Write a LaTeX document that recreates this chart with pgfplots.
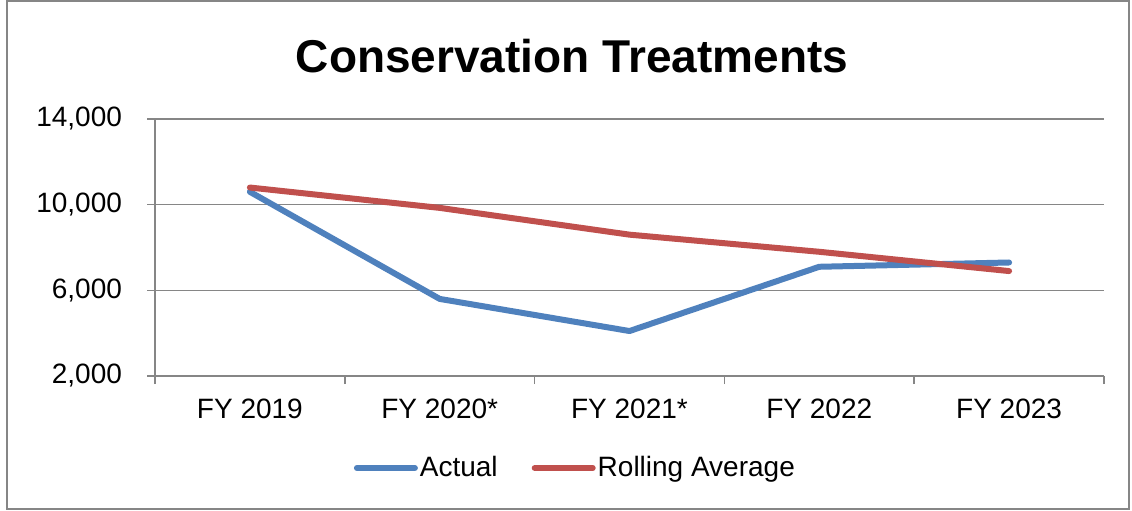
\documentclass[border=0pt]{standalone}
\usepackage{pgfplots}
\pgfplotsset{compat=1.18}
\usepackage{fontspec}
\setmainfont{Liberation Sans}

\definecolor{actblue}{HTML}{4F81BD}
\definecolor{rollred}{HTML}{C0504D}
\definecolor{axgray}{HTML}{868686}

\begin{document}
\begin{tikzpicture}[x=1pt,y=1pt]
\useasboundingbox (0,0) rectangle (566,255);
\draw[axgray, line width=0.8pt] (3.5,0.5) rectangle (564.5,254.5);
\node[font=\fontsize{23}{26}\selectfont\bfseries] at (286,227) {Conservation Treatments};
\begin{axis}[
    at={(77.5pt,67pt)}, anchor=south west,
    scale only axis,
    width=474.5pt, height=128.5pt,
    xmin=-0.5, xmax=4.5,
    ymin=2000, ymax=14000,
    ytick={2000,6000,10000,14000},
    scaled y ticks=false,
    xtick={-0.5,0.5,1.5,2.5,3.5,4.5},
    x tick label as interval,
    xticklabels={FY 2019, FY 2020*, FY 2021*, FY 2022, FY 2023},
    axis x line*=bottom, axis y line*=left,
    axis line style={axgray, line width=0.8pt, -},
    tick style={axgray, line width=0.8pt},
    tick align=outside, major tick length=4pt,
    ymajorgrids, grid style={axgray, line width=0.8pt},
    ticklabel style={font=\fontsize{14}{16}\selectfont},
    /pgf/number format/assume math mode=true,
    /pgf/number format/1000 sep={,},
    yticklabel style={xshift=-9pt},
    xticklabel style={yshift=-4pt},
    legend style={at={(0.443,-0.358)}, anchor=center, draw=none,
        font=\fontsize{14}{16}\selectfont,
        nodes={inner xsep=1pt}},
    legend columns=2,
    /tikz/every even column/.append style={column sep=16pt},
    legend image code/.code={\draw[#1, line cap=round] (0pt,0pt) -- (29pt,0pt);},
]
\addplot[actblue, line width=3pt, line cap=round, line join=round] coordinates {
    (0,10600) (1,5600) (2,4100) (3,7100) (4,7300)
};
\addlegendentry{Actual}
\addplot[rollred, line width=3pt, line cap=round, line join=round] coordinates {
    (0,10800) (1,9850) (2,8600) (3,7800) (4,6900)
};
\addlegendentry{Rolling Average}
\end{axis}
\end{tikzpicture}
\end{document}
